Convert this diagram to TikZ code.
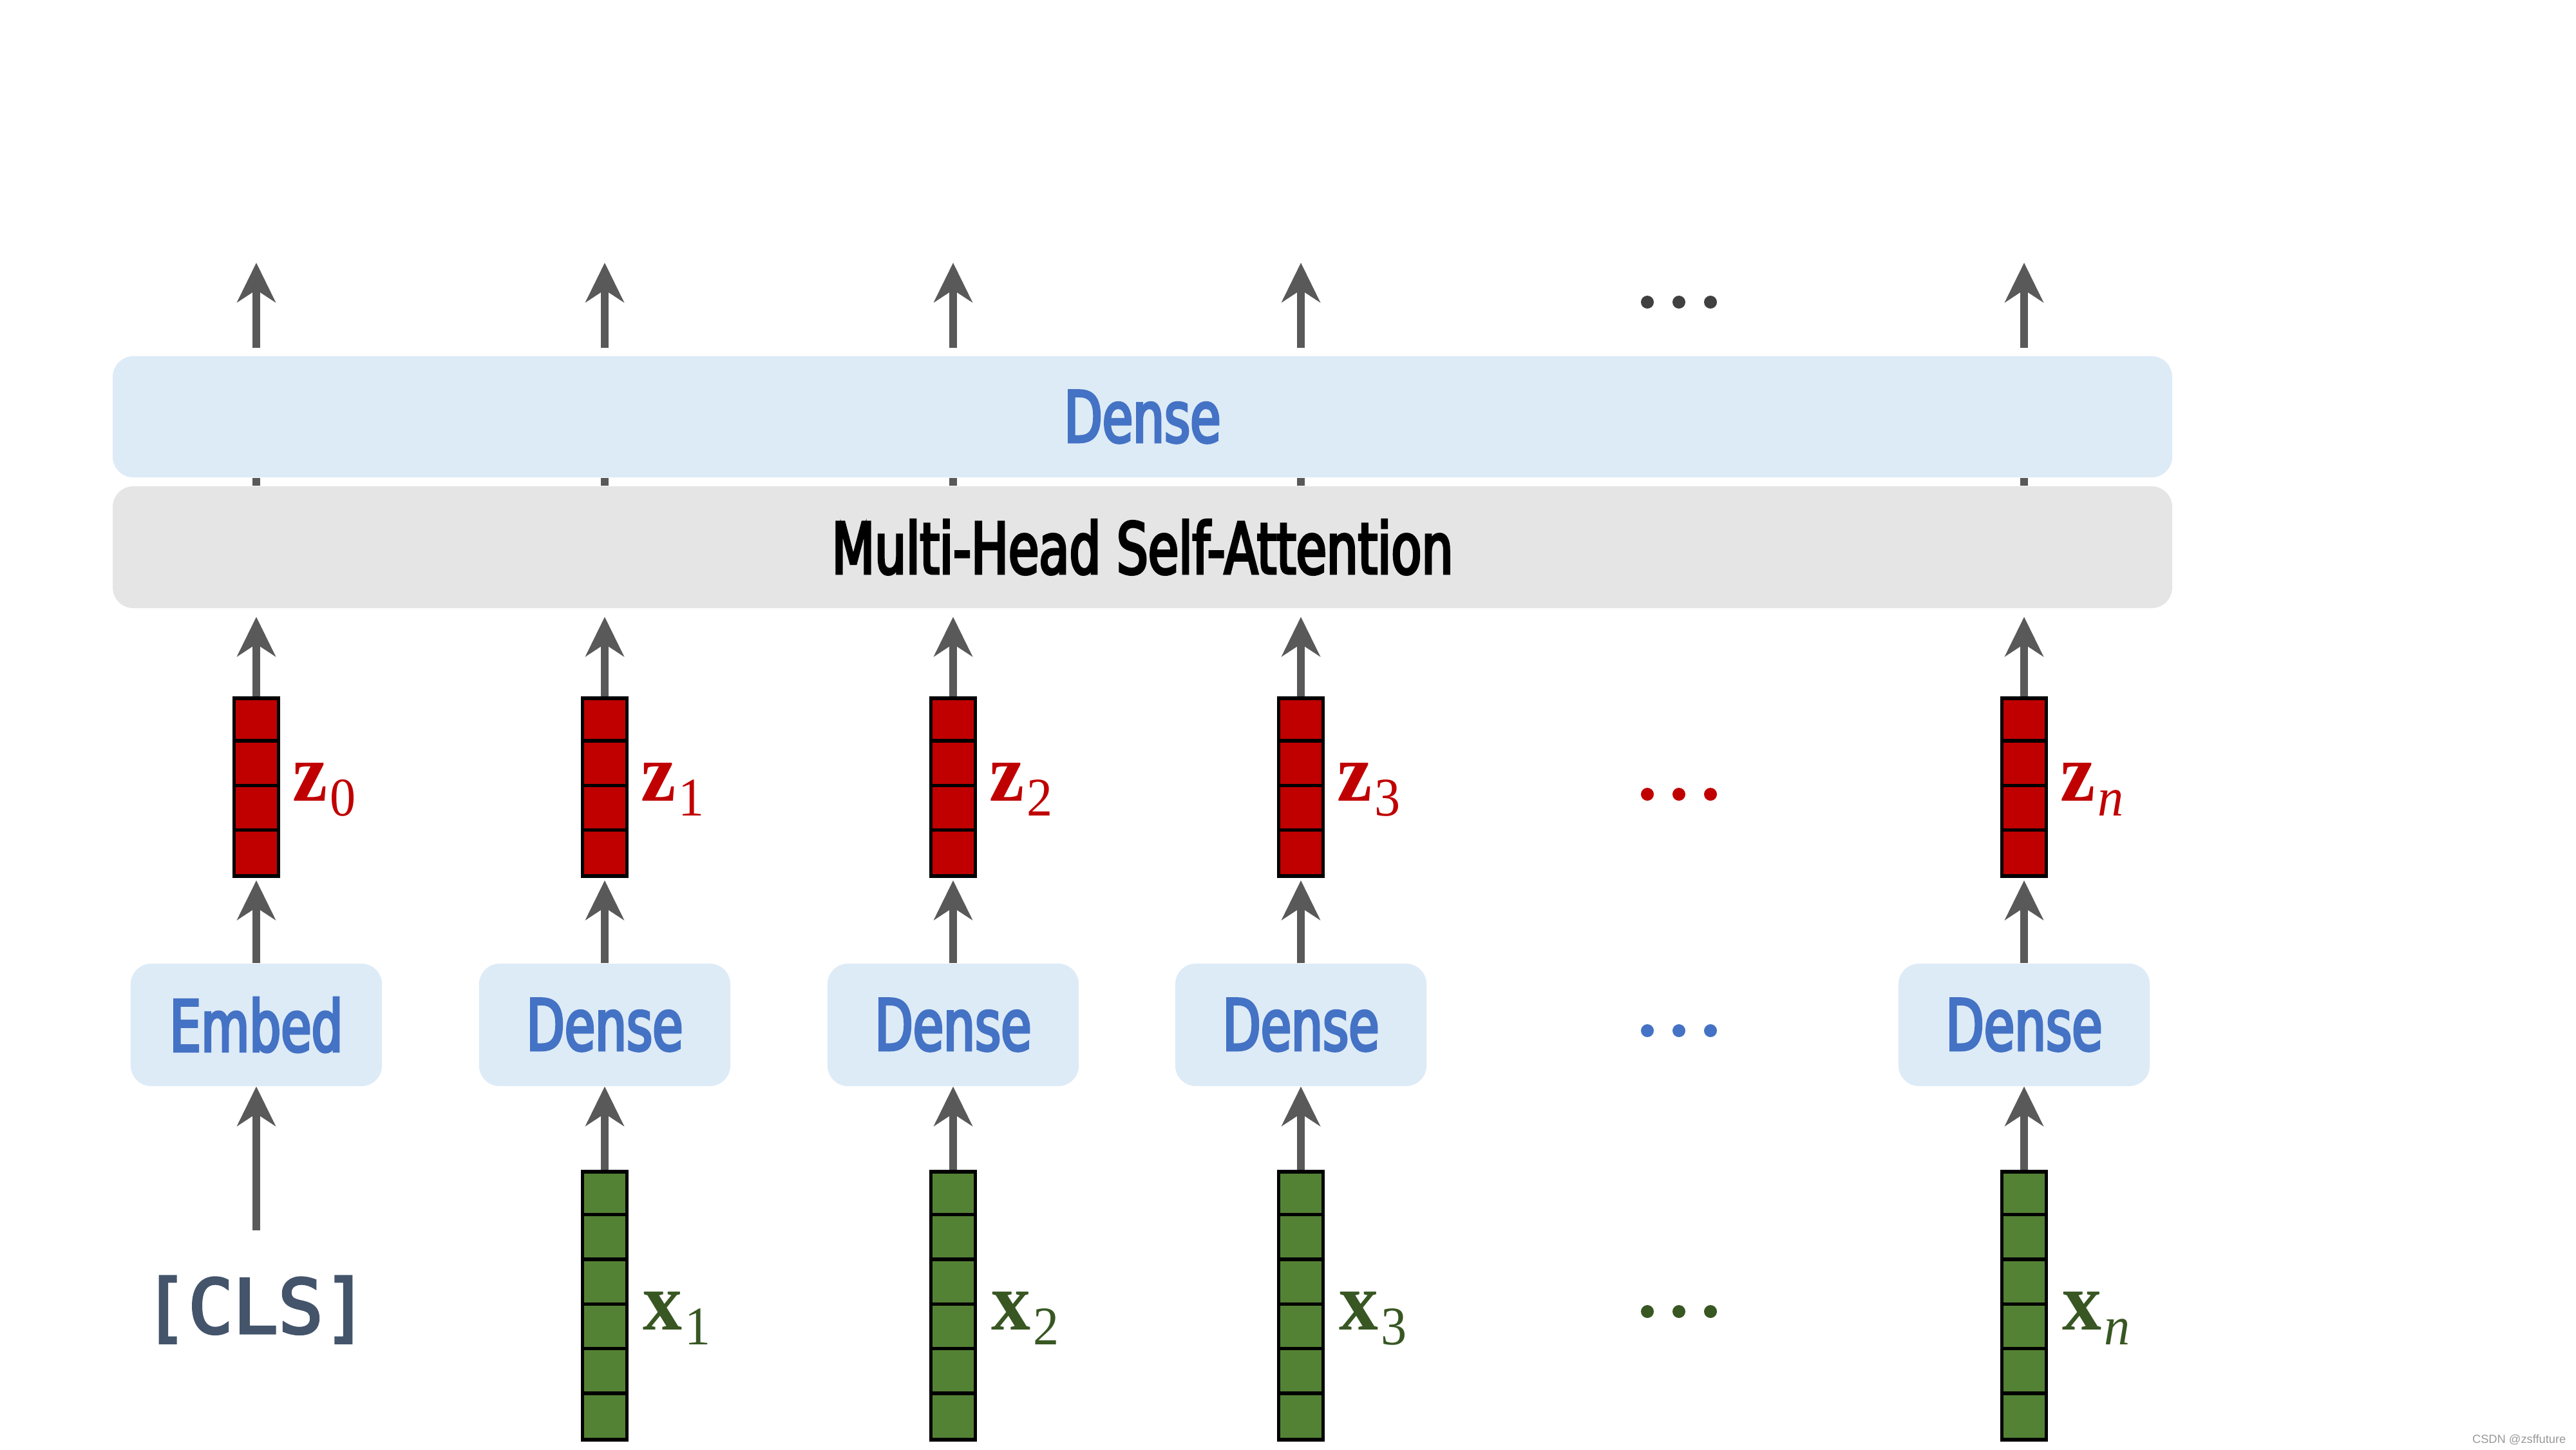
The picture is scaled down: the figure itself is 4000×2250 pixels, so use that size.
\documentclass[tikz,border=0pt]{standalone}
\usepackage{fontspec}
\usetikzlibrary{arrows.meta,backgrounds}
\newfontfamily\condsans[FakeStretch=0.70,FakeBold=3.5]{DejaVu Sans}
\newfontfamily\clsfont[FakeBold=3.5]{DejaVu Sans Mono}
\newfontfamily\wmfont{Liberation Sans}
\newfontfamily\labserif{Liberation Serif}
\newcommand\labfont{\fontsize{31.3}{36}\condsans}
\newcommand\vlab[2]{\scalebox{0.95}[1]{\fontsize{36.5}{40}\labserif\bfseries #1\hspace{0.03em}\raisebox{-0.18em}{\mdseries\fontsize{24}{28}\selectfont #2}}}
\definecolor{arrgray}{HTML}{595959}
\definecolor{densefill}{HTML}{DDEBF7}
\definecolor{attfill}{HTML}{E5E5E5}
\definecolor{densetext}{HTML}{4472C4}
\definecolor{zred}{HTML}{C00000}
\definecolor{xfill}{HTML}{548235}
\definecolor{xtext}{HTML}{385723}
\definecolor{clstext}{HTML}{44546A}
\definecolor{dotgray}{HTML}{404040}
\tikzset{
  arr/.style={draw=arrgray, line width=0.115cm,
    -{Stealth[length=0.62cm,width=0.61cm,inset=0.2cm,line width=0pt]}},
  plainline/.style={draw=arrgray, line width=0.115cm},
  widebox/.style={rounded corners=0.32cm, minimum width=31.96cm,
    minimum height=1.88cm, inner sep=0pt, font=\labfont},
  smallbox/.style={rounded corners=0.32cm, fill=densefill, minimum width=3.9cm,
    minimum height=1.9cm, inner sep=0pt, text=densetext, font=\labfont},
  zvec/.style={draw=black, fill=zred, line width=0.055cm, minimum width=0.69cm,
    minimum height=2.76cm, inner sep=0pt},
  xvec/.style={draw=black, fill=xfill, line width=0.055cm, minimum width=0.69cm,
    minimum height=4.16cm, inner sep=0pt},
  cellline/.style={draw=black, line width=0.055cm},
  zlab/.style={text=zred, anchor=base west, inner sep=0pt},
  xlab/.style={text=xtext, anchor=base west, inner sep=0pt},
}
\begin{document}
\begin{tikzpicture}[x=0.01cm,y=-0.01cm]
\begin{pgfonlayer}{background}
\fill[white] (0,0) rectangle (4000,2250);
\end{pgfonlayer}
\useasboundingbox (0,0) rectangle (4000,2250);

% wide layers
\node[widebox, fill=densefill, text=densetext] (dense) at (1774,647) {Dense};
\node[widebox, fill=attfill, text=black, minimum height=1.89cm] (mhsa) at (1774,849.5) {Multi-Head Self-Attention};

% per-token dense / embed boxes
\node[smallbox] (emb) at (398,1591) {Embed};
\node[smallbox] (d1) at (939,1591) {Dense};
\node[smallbox] (d2) at (1480,1591) {Dense};
\node[smallbox] (d3) at (2020,1591) {Dense};
\node[smallbox] (dn) at (3143,1591) {Dense};

% z vectors
\node[zvec] (z0) at (398,1222) {};
\node[zvec] (z1) at (939,1222) {};
\node[zvec] (z2) at (1480,1222) {};
\node[zvec] (z3) at (2020,1222) {};
\node[zvec] (zn) at (3143,1222) {};
\foreach \z in {z0,z1,z2,z3,zn}{
  \foreach \k in {1,2,3}{
    \draw[cellline] ([yshift=-\k*0.69cm]\z.north west) -- ([yshift=-\k*0.69cm]\z.north east);
  }
}

% x vectors
\node[xvec] (x1) at (939,2027) {};
\node[xvec] (x2) at (1480,2027) {};
\node[xvec] (x3) at (2020,2027) {};
\node[xvec] (xn) at (3143,2027) {};
\foreach \x in {x1,x2,x3,xn}{
  \foreach \k in {1,...,5}{
    \draw[cellline] ([yshift=-\k*0.6933cm]\x.north west) -- ([yshift=-\k*0.6933cm]\x.north east);
  }
}

% labels
\node[zlab] (lz0) at (454,1243) {\vlab{z}{0}};
\node[zlab] (lz1) at (995,1243) {\vlab{z}{1}};
\node[zlab] (lz2) at (1536,1243) {\vlab{z}{2}};
\node[zlab] (lz3) at (2076,1243) {\vlab{z}{3}};
\node[zlab] (lzn) at (3199,1243) {\vlab{z}{\itshape n}};
\node[xlab] (lx1) at (998,2064) {\vlab{x}{1}};
\node[xlab] (lx2) at (1539,2064) {\vlab{x}{2}};
\node[xlab] (lx3) at (2079,2064) {\vlab{x}{3}};
\node[xlab] (lxn) at (3202,2064) {\vlab{x}{\itshape n}};

% [CLS]
\node[text=clstext, inner sep=0pt, font={\fontsize{33}{38}\clsfont}] (cls) at (397,2033) {{[CLS]}};
\coordinate (clsstart) at (398,1910);
\coordinate (top) at (0,408);

% arrows
\draw[arr] (clsstart) -- (emb.south);
\foreach \x/\d in {x1/d1,x2/d2,x3/d3,xn/dn}{
  \draw[arr] (\x.north) -- (\d.south);
}
\foreach \z/\d in {z0/emb,z1/d1,z2/d2,z3/d3,zn/dn}{
  \draw[arr, shorten >=0.04cm] (\d.north) -- (\z.south);
  \draw[arr, shorten >=0.13cm] (\z.north) -- (\z |- mhsa.south);
  \begin{pgfonlayer}{background}
    \draw[plainline] (\z |- mhsa.north) -- (\z |- dense.south);
  \end{pgfonlayer}
  \draw[arr, shorten <=0.12cm] (\z |- dense.north) -- (\z |- top);
}

% ellipses
\foreach \dx in {-49,0,49}{
  \fill[dotgray] (2607+\dx,469) circle (0.1cm);
  \fill[zred] (2607+\dx,1233) circle (0.1cm);
  \fill[densetext] (2607+\dx,1600) circle (0.1cm);
  \fill[xtext] (2607+\dx,2036) circle (0.1cm);
}

% watermark
\node[anchor=base east, text=black!40, inner sep=0pt, font={\fontsize{5.2}{6}\wmfont}] (wm) at (3985,2240) {CSDN @zsffuture};
\end{tikzpicture}
\end{document}
